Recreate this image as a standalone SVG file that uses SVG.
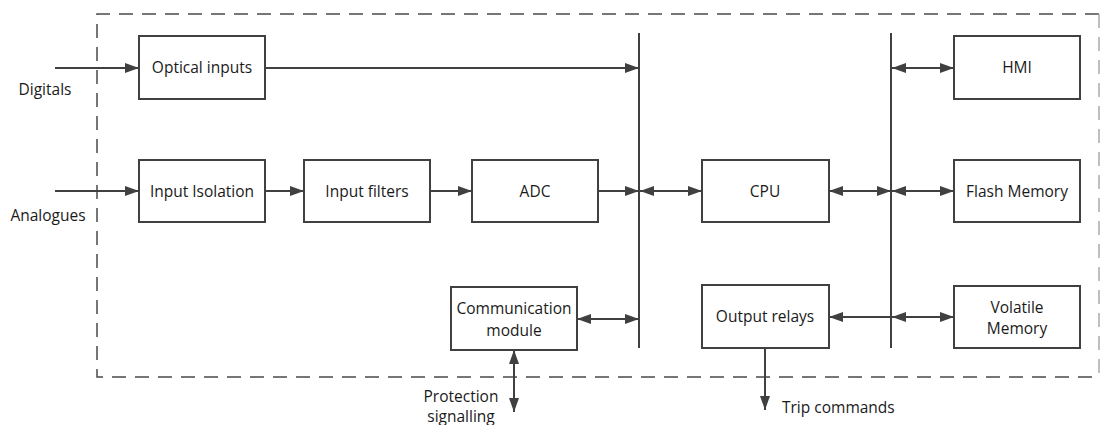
<svg xmlns="http://www.w3.org/2000/svg" width="1100" height="425" viewBox="0 0 1100 425">
<style>
.box{fill:#fff;stroke:#404040;stroke-width:2}
.ln{stroke:#404040;stroke-width:2;fill:none}
.bus{stroke:#404040;stroke-width:2}
text{font-family:"Open Sans","Noto Sans",sans-serif;font-size:15.5px;fill:#1a1a1a;text-anchor:middle}
.lbl{text-anchor:start}
</style>
<defs>
<marker id="ah" viewBox="0 0 14 10" refX="14" refY="5" markerWidth="14" markerHeight="10" markerUnits="userSpaceOnUse" orient="auto-start-reverse">
<path d="M0,0 L14,5 L0,10 Z" fill="#404040"/>
</marker>
</defs>
<path d="M1099,14 H97 V377 H1099" fill="none" stroke="#4a4a4a" stroke-width="1.5" stroke-dasharray="14 9"/>
<line x1="1099" y1="14" x2="1099" y2="377" stroke="#aaa" stroke-width="1.5" stroke-dasharray="14 9"/>
<g id="connectors">
<line class="bus" x1="639" y1="33" x2="639" y2="348"/>
<line class="bus" x1="891" y1="33" x2="891" y2="348"/>
<line class="ln" x1="55" y1="68" x2="139" y2="68" marker-end="url(#ah)"/>
<line class="ln" x1="55" y1="191" x2="139" y2="191" marker-end="url(#ah)"/>
<line class="ln" x1="265" y1="68" x2="639" y2="68" marker-end="url(#ah)"/>
<line class="ln" x1="265" y1="191" x2="304" y2="191" marker-end="url(#ah)"/>
<line class="ln" x1="430" y1="191" x2="472" y2="191" marker-end="url(#ah)"/>
<line class="ln" x1="598" y1="191" x2="639" y2="191" marker-end="url(#ah)"/>
<line class="ln" x1="640" y1="191" x2="702" y2="191" marker-start="url(#ah)" marker-end="url(#ah)"/>
<line class="ln" x1="829" y1="191" x2="891" y2="191" marker-start="url(#ah)" marker-end="url(#ah)"/>
<line class="ln" x1="892" y1="68" x2="954" y2="68" marker-start="url(#ah)" marker-end="url(#ah)"/>
<line class="ln" x1="892" y1="191" x2="954" y2="191" marker-start="url(#ah)" marker-end="url(#ah)"/>
<line class="ln" x1="892" y1="317" x2="954" y2="317" marker-start="url(#ah)" marker-end="url(#ah)"/>
<line class="ln" x1="891" y1="317" x2="829" y2="317" marker-end="url(#ah)"/>
<line class="ln" x1="577" y1="319" x2="639" y2="319" marker-start="url(#ah)" marker-end="url(#ah)"/>
<line class="ln" x1="514" y1="350" x2="514" y2="412" marker-start="url(#ah)" marker-end="url(#ah)"/>
<line class="ln" x1="765" y1="348" x2="765" y2="410" marker-end="url(#ah)"/>
</g>
<g id="optical"><rect class="box" x="139" y="36" width="126" height="63"/><text x="202" y="73">Optical inputs</text></g>
<g id="isolation"><rect class="box" x="139" y="160" width="126" height="62"/><text x="202" y="197">Input Isolation</text></g>
<g id="filters"><rect class="box" x="304" y="160" width="126" height="62"/><text x="367" y="197">Input filters</text></g>
<g id="adc"><rect class="box" x="472" y="160" width="126" height="62"/><text x="535" y="197">ADC</text></g>
<g id="cpu"><rect class="box" x="702" y="160" width="127" height="62"/><text x="765" y="197">CPU</text></g>
<g id="hmi"><rect class="box" x="954" y="36" width="126" height="63"/><text x="1017" y="73">HMI</text></g>
<g id="flash"><rect class="box" x="954" y="160" width="126" height="62"/><text x="1017" y="197">Flash Memory</text></g>
<g id="volatile"><rect class="box" x="954" y="286" width="126" height="62"/><text x="1017" y="313">Volatile</text><text x="1017" y="334">Memory</text></g>
<g id="relays"><rect class="box" x="702" y="285" width="127" height="63"/><text x="765" y="322">Output relays</text></g>
<g id="comm"><rect class="box" x="451" y="287" width="126" height="63"/><text x="514" y="314">Communication</text><text x="514" y="336">module</text></g>
<g id="labels">
<text x="45" y="95">Digitals</text>
<text x="48" y="221">Analogues</text>
<text x="461" y="402">Protection</text>
<text x="461" y="422">signalling</text>
<text class="lbl" x="782" y="413">Trip commands</text>
</g>
</svg>
